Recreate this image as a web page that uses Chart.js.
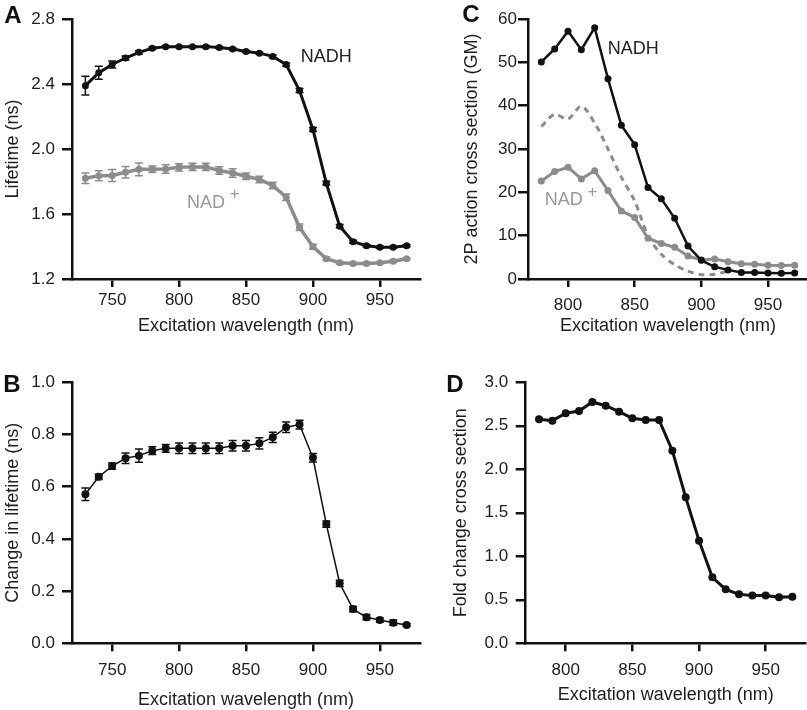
<!DOCTYPE html>
<html><head><meta charset="utf-8">
<script src="https://cdn.jsdelivr.net/npm/chart.js@4.4.1/dist/chart.umd.min.js"></script>
<style>
html,body{margin:0;padding:0;background:#fff;overflow:hidden;width:807px;height:710px;position:relative;}
canvas{position:absolute;}
#cA{left:0;top:0;}
#cB{left:0;top:345px;}
#cC{left:440px;top:0;}
#cD{left:440px;top:345px;}
</style></head><body>
<canvas id="cA" width="440" height="345"></canvas>
<canvas id="cB" width="440" height="395"></canvas>
<canvas id="cC" width="390" height="345"></canvas>
<canvas id="cD" width="390" height="395"></canvas>
<script>
// ---------- data ----------
const wlAB = [730,740,750,760,770,780,790,800,810,820,830,840,850,860,870,880,890,900,910,920,930,940,950,960,970];
const nadhLifetime    = [2.39,2.47,2.52,2.56,2.595,2.62,2.63,2.63,2.63,2.63,2.625,2.615,2.60,2.59,2.57,2.52,2.36,2.12,1.79,1.525,1.43,1.405,1.395,1.395,1.405];
const nadhLifetimeErr = [0.057,0.04,0.022,0.012,0.01,0.008,0.006,0.006,0.006,0.006,0.006,0.006,0.006,0.006,0.008,0.01,0.012,0.012,0.012,0.01,0.008,0.006,0.006,0.006,0.006];
const nadLifetime     = [1.82,1.835,1.837,1.857,1.875,1.875,1.877,1.887,1.89,1.89,1.868,1.852,1.832,1.813,1.776,1.703,1.518,1.399,1.325,1.30,1.296,1.296,1.30,1.309,1.325];
const nadLifetimeErr  = [0.033,0.031,0.037,0.036,0.039,0.02,0.026,0.023,0.023,0.023,0.023,0.026,0.02,0.02,0.02,0.02,0.02,0.015,0.01,0.008,0.006,0.006,0.006,0.006,0.006];
const deltaLifetime    = [0.571,0.638,0.679,0.709,0.719,0.738,0.747,0.747,0.747,0.747,0.747,0.757,0.757,0.766,0.789,0.828,0.838,0.711,0.457,0.23,0.131,0.10,0.089,0.079,0.070];
const deltaLifetimeErr = [0.024,0.01,0.012,0.02,0.025,0.015,0.015,0.02,0.02,0.02,0.02,0.02,0.02,0.022,0.02,0.02,0.017,0.016,0.012,0.012,0.01,0.01,0.008,0.01,0.005];

const wlCD = [780,790,800,810,820,830,840,850,860,870,880,890,900,910,920,930,940,950,960,970];
const nadhCross   = [50.1,53.1,57.2,52.9,58.0,46.2,35.5,31.0,21.1,18.5,14.0,7.6,4.3,2.8,2.1,1.5,1.5,1.4,1.3,1.4];
const nadCross    = [22.6,24.8,25.8,23.1,25.0,20.4,15.7,14.2,9.4,8.2,7.3,5.3,4.4,4.6,4.0,3.5,3.4,3.2,3.1,3.2];
const dashedCross = [35.2,38.0,36.9,39.9,36.0,30.0,23.5,18.0,10.0,5.7,3.3,1.8,1.0,1.1,1.8,null,null,null,null,null];
const foldChange  = [2.575,2.559,2.644,2.67,2.774,2.731,2.662,2.586,2.567,2.567,2.214,1.678,1.18,0.759,0.62,0.563,0.548,0.548,0.529,0.536];

const xTicksAB = [750,800,850,900,950];
const xTicksCD = [800,850,900,950];
const yTicksA = ['1.2','1.6','2.0','2.4','2.8'];
const yTicksB = ['0.0','0.2','0.4','0.6','0.8','1.0'];
const yTicksC = ['0','10','20','30','40','50','60'];
const yTicksD = ['0.0','0.5','1.0','1.5','2.0','2.5','3.0'];

// ---------- styling ----------
const FONT = '"Liberation Sans", Arial, Helvetica, sans-serif';
const INK = '#111111';
const TXT = '#1e1e1e';
const GRAY = '#8c8c8c';

const pts = (xs, ys) => xs.map((x, i) => ({x: x, y: ys[i]}));

const errorBars = {
  id: 'errorBars',
  afterDatasetsDraw(chart) {
    const ctx = chart.ctx, ys = chart.scales.y;
    chart.data.datasets.forEach((ds, di) => {
      if (!ds.errors) return;
      const meta = chart.getDatasetMeta(di);
      ctx.save();
      ctx.strokeStyle = ds.borderColor;
      ctx.lineWidth = 1.5;
      meta.data.forEach((p, i) => {
        const e = ds.errors[i];
        const v = ds.data[i].y;
        if (!e || v == null) return;
        const t = ys.getPixelForValue(v + e), b = ys.getPixelForValue(v - e);
        const c = 4;
        ctx.beginPath();
        ctx.moveTo(p.x, t); ctx.lineTo(p.x, b);
        ctx.moveTo(p.x - c, t); ctx.lineTo(p.x + c, t);
        ctx.moveTo(p.x - c, b); ctx.lineTo(p.x + c, b);
        ctx.stroke();
      });
      ctx.restore();
    });
  }
};

const annot = {
  id: 'annot',
  afterDraw(chart, args, opts) {
    const ctx = chart.ctx, xs = chart.scales.x, ys = chart.scales.y;
    ctx.save();
    (opts.labels || []).forEach(l => {
      ctx.font = '18px ' + FONT;
      ctx.fillStyle = l.color;
      ctx.textAlign = l.align;
      ctx.textBaseline = 'middle';
      const px = xs.getPixelForValue(l.x), py = ys.getPixelForValue(l.y);
      ctx.fillText(l.text, px, py);
      if (l.sup) {
        const w = ctx.measureText(l.text).width;
        ctx.font = '16px ' + FONT;
        ctx.textAlign = 'left';
        ctx.fillText(l.sup, px + w + 5, py - 8);
      }
    });
    if (opts.letter) {
      ctx.font = 'bold 24px ' + FONT;
      ctx.fillStyle = INK;
      ctx.textAlign = 'center';
      ctx.textBaseline = 'middle';
      ctx.fillText(opts.letter.text, opts.letter.px, opts.letter.py);
    }
    ctx.restore();
  }
};

function xAxis(min, max, ticks, tickPad, height, titlePadBottom) {
  return {
    type: 'linear', min: min, max: max,
    afterBuildTicks: s => { s.ticks = ticks.map(v => ({value: v})); },
    afterFit: s => { s.height = height; },
    border: {display: true, color: INK, width: 2.5},
    grid: {display: true, drawOnChartArea: false, drawTicks: true, tickLength: 8, lineWidth: 2.5, color: INK},
    ticks: {font: {family: FONT, size: 17}, color: TXT, padding: tickPad, maxRotation: 0, autoSkip: false},
    title: {display: true, text: 'Excitation wavelength (nm)', font: {family: FONT, size: 18}, color: TXT,
            padding: {top: 0, bottom: titlePadBottom}}
  };
}
function yAxis(min, max, labels, tickPad, width, titleText, titlePadTop) {
  return {
    type: 'linear', min: min, max: max,
    afterBuildTicks: s => { s.ticks = labels.map(t => ({value: parseFloat(t)})); },
    afterFit: s => { s.width = width; },
    border: {display: true, color: INK, width: 2.5},
    grid: {display: true, drawOnChartArea: false, drawTicks: true, tickLength: 10, lineWidth: 2.5, color: INK},
    ticks: {font: {family: FONT, size: 17}, color: TXT, padding: tickPad, autoSkip: false,
            callback: (v, i) => labels[i]},
    title: {display: true, text: titleText, font: {family: FONT, size: 18}, color: TXT,
            padding: {top: titlePadTop, bottom: 0}}
  };
}
function baseOptions(pad, scales, annotOpts) {
  return {
    responsive: false, animation: false,
    layout: {padding: pad},
    scales: scales,
    plugins: {legend: {display: false}, tooltip: {enabled: false}, annot: annotOpts}
  };
}

// ---------- Panel A ----------
new Chart(document.getElementById('cA'), {
  type: 'line',
  data: {datasets: [
    {label: 'NADH', data: pts(wlAB, nadhLifetime), errors: nadhLifetimeErr, borderColor: INK, backgroundColor: INK,
     borderWidth: 3, pointRadius: 3.5, pointBorderWidth: 0, tension: 0, clip: false},
    {label: 'NAD+', data: pts(wlAB, nadLifetime), errors: nadLifetimeErr, borderColor: GRAY, backgroundColor: GRAY,
     borderWidth: 3.5, pointRadius: 3.5, pointBorderWidth: 0, tension: 0, clip: false}
  ]},
  options: baseOptions({left: 0, top: 19, right: 20, bottom: 6}, {
    x: xAxis(720, 980, xTicksAB, 3, 60, 2),
    y: yAxis(1.2, 2.8, yTicksA, 7, 72, 'Lifetime (ns)', 2)
  }, {
    labels: [
      {text: 'NADH', x: 910, y: 2.566, color: '#222222', align: 'center'},
      {text: 'NAD', sup: '+', x: 806, y: 1.668, color: '#999999', align: 'left'}
    ],
    letter: {text: 'A', px: 13, py: 16}
  }),
  plugins: [errorBars, annot]
});

// ---------- Panel B ----------
new Chart(document.getElementById('cB'), {
  type: 'line',
  data: {datasets: [
    {label: 'Change in lifetime', data: pts(wlAB, deltaLifetime), errors: deltaLifetimeErr, borderColor: INK, backgroundColor: INK,
     borderWidth: 1.5, pointRadius: 4, pointBorderWidth: 0, tension: 0, clip: false}
  ]},
  options: baseOptions({left: 0, top: 37.3, right: 20, bottom: 26.7}, {
    x: xAxis(720, 980, xTicksAB, 8.5, 70, 2.5),
    y: yAxis(0, 1.0, yTicksB, 7, 72, 'Change in lifetime (ns)', 2)
  }, {letter: {text: 'B', px: 12, py: 40}}),
  plugins: [errorBars, annot]
});

// ---------- Panel C ----------
new Chart(document.getElementById('cC'), {
  type: 'line',
  data: {datasets: [
    {label: 'NADH', data: pts(wlCD, nadhCross), borderColor: INK, backgroundColor: INK,
     borderWidth: 2.5, pointRadius: 3.5, pointBorderWidth: 0, tension: 0, clip: false},
    {label: 'NAD+', data: pts(wlCD, nadCross), borderColor: GRAY, backgroundColor: GRAY,
     borderWidth: 3, pointRadius: 3.5, pointBorderWidth: 0, tension: 0, clip: false},
    {label: 'dashed', data: pts(wlCD, dashedCross), borderColor: GRAY, backgroundColor: GRAY, borderDash: [6, 5],
     borderWidth: 3, pointRadius: 0, tension: 0.3, clip: false, spanGaps: false}
  ]},
  options: baseOptions({left: 16, top: 19, right: 22, bottom: 6}, {
    x: xAxis(770, 980, xTicksCD, 8.5, 60, 2),
    y: yAxis(0, 60, yTicksC, 1, 72, '2P action cross section (GM)', 5)
  }, {
    labels: [
      {text: 'NADH', x: 849, y: 53.1, color: '#222222', align: 'center'},
      {text: 'NAD', sup: '+', x: 782.5, y: 18.2, color: '#999999', align: 'left'}
    ],
    letter: {text: 'C', px: 31, py: 15}
  }),
  plugins: [annot]
});

// ---------- Panel D ----------
new Chart(document.getElementById('cD'), {
  type: 'line',
  data: {datasets: [
    {label: 'Fold change', data: pts(wlCD, foldChange), borderColor: INK, backgroundColor: INK,
     borderWidth: 3, pointRadius: 4, pointBorderWidth: 0, tension: 0, clip: false}
  ]},
  options: baseOptions({left: 5.7, top: 37.3, right: 24.3, bottom: 26.7}, {
    x: xAxis(770, 980, xTicksCD, 8.5, 70, 7.5),
    y: yAxis(0, 3.0, yTicksD, 7.5, 80, 'Fold change cross section', 4.5)
  }, {letter: {text: 'D', px: 15, py: 40}}),
  plugins: [annot]
});
</script>
</body></html>
